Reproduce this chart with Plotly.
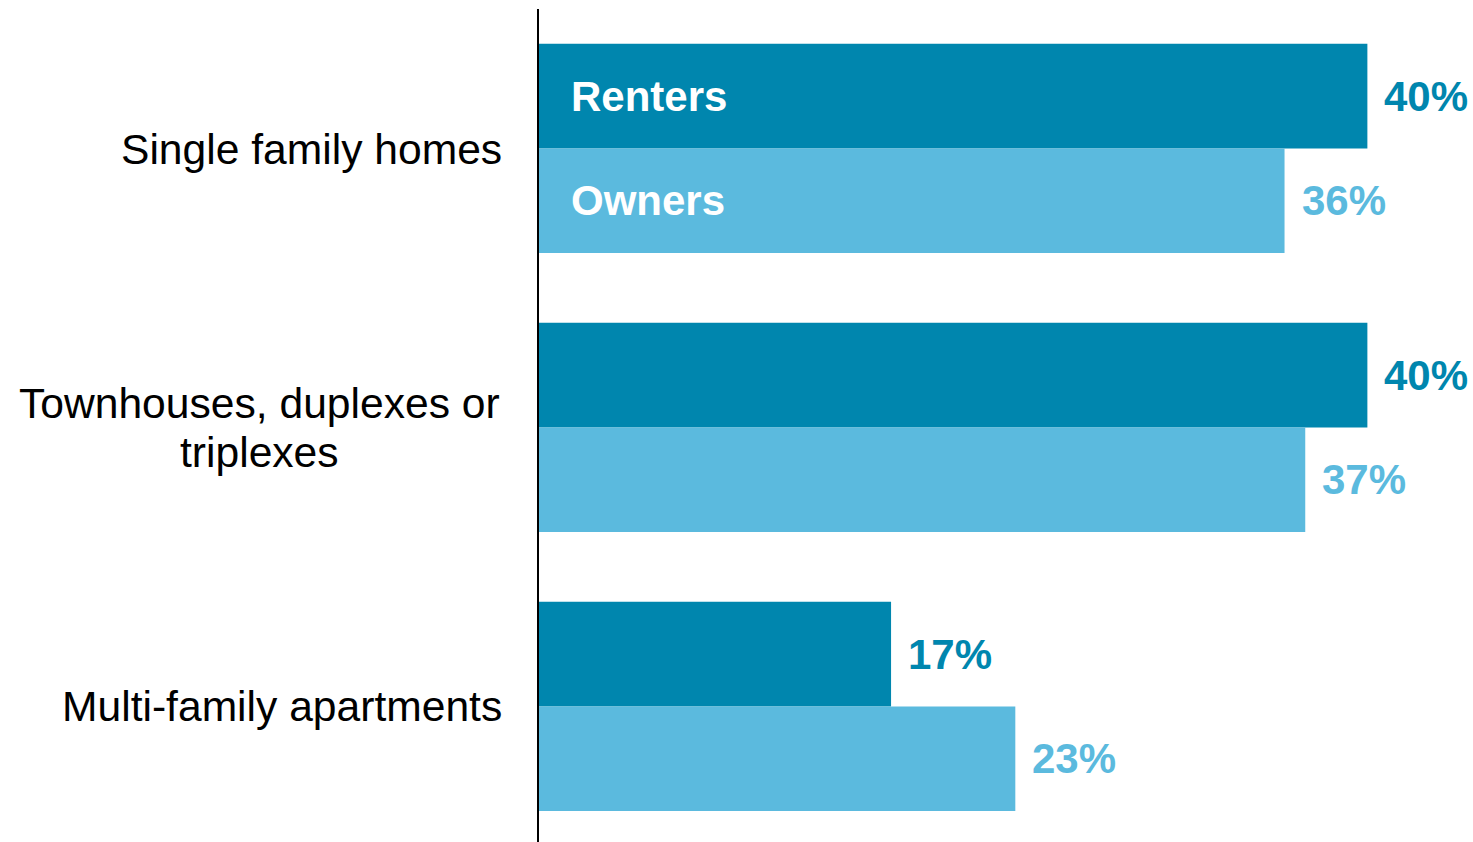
import plotly.graph_objects as go

categories = ["Single family homes", "Townhouses, duplexes or<br>triplexes", "Multi-family apartments"]
series_names = ["Renters", "Owners"]
renters = [40, 40, 17]
owners = [36, 37, 23]

colors = {"Renters": "#0086AE", "Owners": "#5BBADE"}
FONT = "Liberation Sans, Arial, sans-serif"
FS = 42
CAT_FS = 42.6
LINE_H = 49.5

fig = go.Figure()
for name, vals in zip(series_names, [renters, owners]):
    fig.add_trace(go.Bar(
        name=name, y=list(range(len(categories))), x=vals, orientation="h",
        marker=dict(color=colors[name], line=dict(width=0)),
        hoverinfo="skip",
    ))

ann = []
shifts = {"Renters": 52, "Owners": -52}
for name, vals in zip(series_names, [renters, owners]):
    for i, v in enumerate(vals):
        ann.append(dict(x=v, y=i, xref="x", yref="y", text=f"<b>{v}%</b>",
                        showarrow=False, xanchor="left", yanchor="middle",
                        xshift=15, yshift=shifts[name],
                        font=dict(family=FONT, size=FS, color=colors[name])))
    # in-bar series label in the first category
    ann.append(dict(x=0, y=0, xref="x", yref="y", text=f"<b>{name}</b>",
                    showarrow=False, xanchor="left", yanchor="middle",
                    xshift=30, yshift=shifts[name],
                    font=dict(family=FONT, size=FS, color="white")))

# category labels: right edges aligned, extra lines centred under the first line
for i, c in enumerate(categories):
    lines = c.split("<br>")
    n = len(lines)
    if n == 1:
        ann.append(dict(x=0, y=i, xref="paper", yref="y", text=c, showarrow=False,
                        xanchor="right", yanchor="middle", xshift=-35,
                        font=dict(family=FONT, size=CAT_FS, color="black")))
    else:
        ann.append(dict(x=0, y=i, xref="paper", yref="y", text=c, showarrow=False,
                        xanchor="right", yanchor="middle", align="center", xshift=-35,
                        font=dict(family=FONT, size=CAT_FS, color="rgba(0,0,0,0)")))
        # overlay each line separately to control the line spacing
        fig_lines = []
        for k, ln in enumerate(lines):
            ann.append(dict(x=0, y=i, xref="paper", yref="y", text=ln, showarrow=False,
                            xanchor="center", yanchor="middle",
                            xshift=-35 - 0, yshift=((n - 1) / 2 - k) * LINE_H,
                            font=dict(family=FONT, size=CAT_FS, color="black"),
                            name=f"line{k}"))

fig.update_layout(
    width=1473, height=842,
    margin=dict(l=539, r=0, t=9, b=0),
    barmode="group", bargap=0.25, bargroupgap=0,
    plot_bgcolor="white", paper_bgcolor="white",
    showlegend=False,
    xaxis=dict(range=[0, 45.1], visible=False, showgrid=False, zeroline=False),
    yaxis=dict(range=[2.4857, -0.5], showticklabels=False, showgrid=False,
               zeroline=False, showline=True, linecolor="black", linewidth=1.5,
               ticks=""),
)

# centre the split lines on the block's centre (right edge minus half of widest line)
# approximate widest-line width from Arial metrics is unnecessary: use a centre offset
CENTER_X = 259  # px, horizontal centre of the multi-line block
for a in ann:
    if a.get("name", "").startswith("line"):
        a["xshift"] = CENTER_X - 539
ann = [a for a in ann if not (a.get("font", {}).get("color") == "rgba(0,0,0,0)")]
fig.update_layout(annotations=ann)

fig.write_html("out.html", config={"displayModeBar": False},
               post_script="document.body.style.margin='0';")
